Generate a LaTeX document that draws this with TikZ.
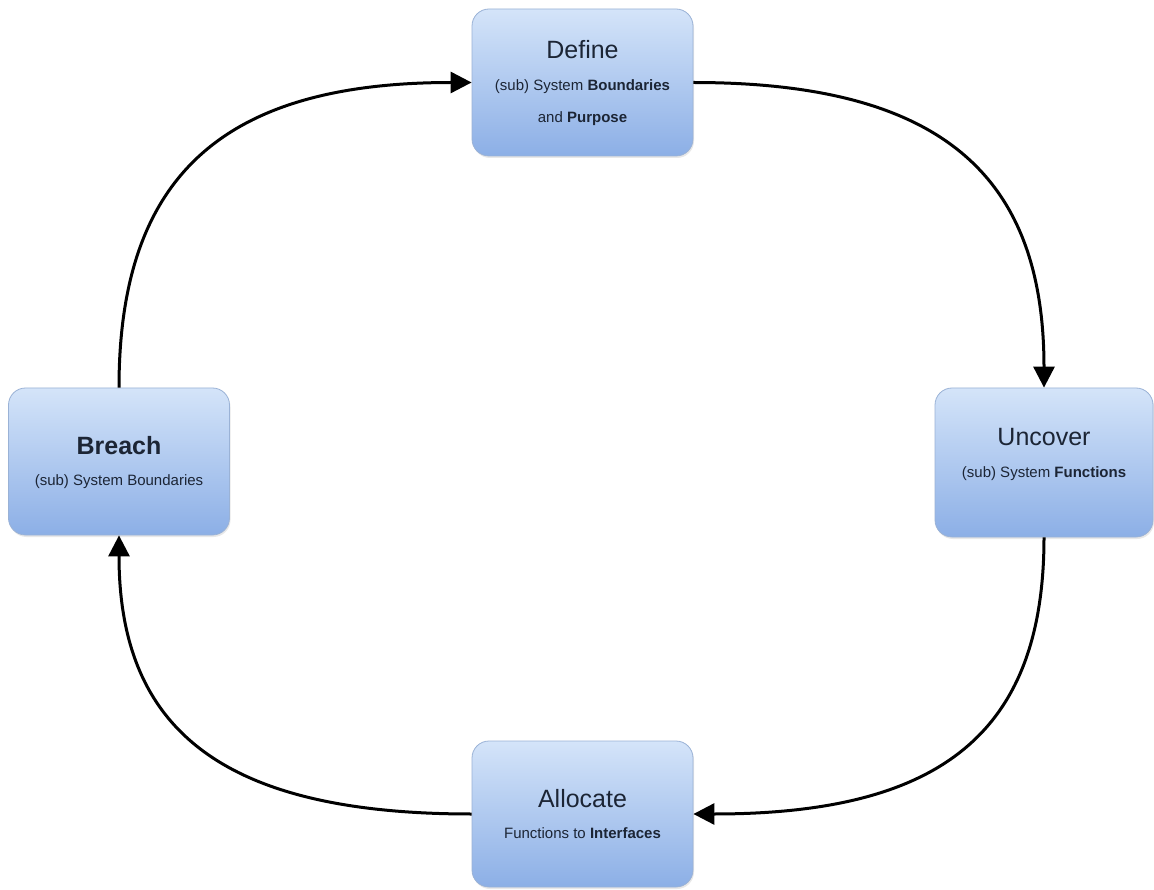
\documentclass[tikz,border=0pt]{standalone}
\usepackage{fontspec}
\setmainfont{Liberation Sans}
\usetikzlibrary{arrows.meta,calc,shadows}
\definecolor{boxtop}{HTML}{D4E4F9}
\definecolor{boxbot}{HTML}{8CAFE6}
\definecolor{boxline}{HTML}{9AB2D6}
\definecolor{txt}{HTML}{1C2535}
\tikzset{
  stagebox/.style={rectangle, rounded corners=17pt, draw=boxline, line width=0.8pt,
    top color=boxtop, bottom color=boxbot, minimum width=221pt, minimum height=147pt,
    inner sep=0pt, drop shadow={opacity=0.18, shadow xshift=1pt, shadow yshift=-2pt}},
  titletext/.style={anchor=base, text=txt, font=\fontsize{25}{30}\selectfont, inner sep=0pt},
  subtext/.style={anchor=base, text=txt, font=\fontsize{15}{18}\selectfont, inner sep=0pt},
  flow/.style={line width=3pt, -{Triangle[length=21pt,width=21pt]}}
}
\begin{document}
\begin{tikzpicture}[x=1pt,y=-1pt]
\useasboundingbox[fill=white] (0,0) rectangle (1154,890);
\node[stagebox] (def) at (582.5,82.5) {};
\node[stagebox] (brc) at (119,461.5) {};
\node[stagebox, minimum width=218pt, minimum height=149pt] (unc) at (1044,462.5) {};
\node[stagebox, minimum height=146pt] (alc) at (582.5,814) {};

\node[titletext] (defT) at ($(def.center)+(0,-23.5)$) {Define};
\node[subtext] (defS1) at ($(def.center)+(0,8)$) {(sub) System \textbf{Boundaries}};
\node[subtext] (defS2) at ($(def.center)+(0,40)$) {and \textbf{Purpose}};

\node[titletext] (brcT) at ($(brc.center)+(0,-7.5)$) {\textbf{Breach}};
\node[subtext] (brcS) at ($(brc.center)+(0,24)$) {(sub) System Boundaries};

\node[titletext] (uncT) at ($(unc.center)+(0,-16.5)$) {Uncover};
\node[subtext] (uncS) at ($(unc.center)+(0,14.5)$) {(sub) System \textbf{Functions}};

\node[titletext] (alcT) at ($(alc.center)+(0,-7)$) {Allocate};
\node[subtext] (alcS) at ($(alc.center)+(0,24.5)$) {Functions to \textbf{Interfaces}};

\draw[flow] (brc.north) .. controls +(0,-213) and +(-247,0) .. (def.west);
\draw[flow] (def.east) .. controls +(247,0) and +(0,-213) .. (unc.north);
\draw[flow] (unc.south) .. controls +(0,196) and +(247,0) .. (alc.east);
\draw[flow] (alc.west) .. controls +(-247,0) and +(0,196) .. (brc.south);
\end{tikzpicture}
\end{document}
